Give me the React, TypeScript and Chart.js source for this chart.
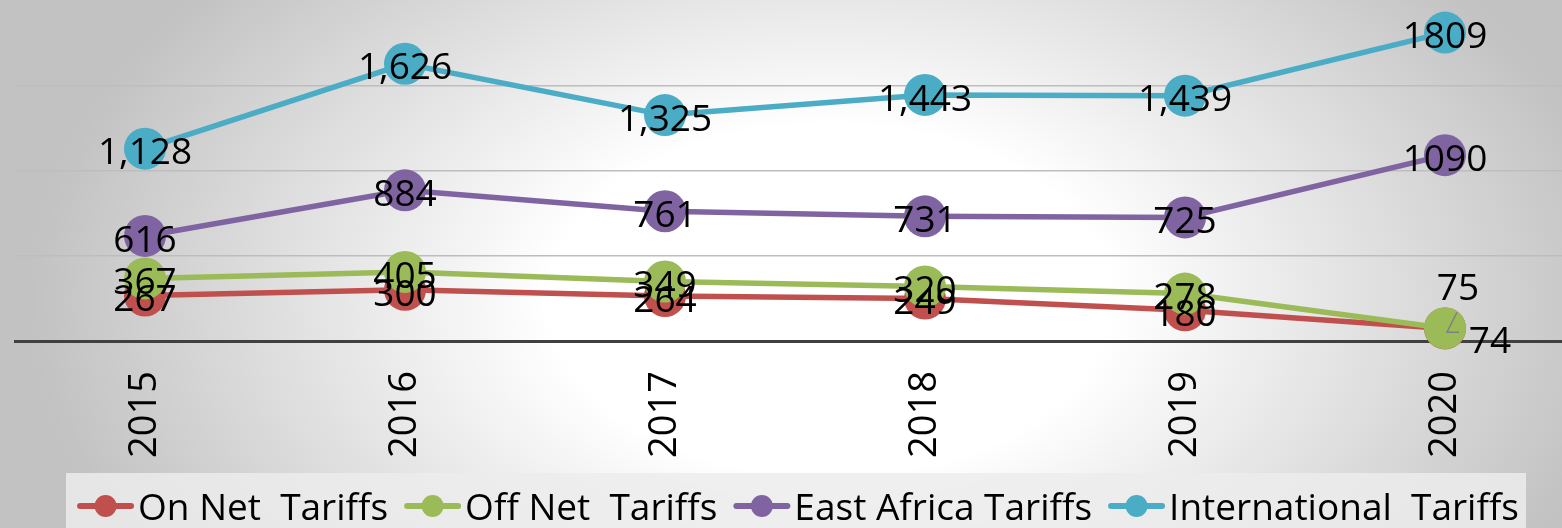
import React, { useEffect, useRef } from "react";
import { Chart, registerables } from "chart.js";

Chart.register(...registerables);

const years = ["2015", "2016", "2017", "2018", "2019", "2020"];
const onNetTariffs = [267, 300, 264, 249, 180, 74];
const offNetTariffs = [367, 405, 349, 320, 278, 75];
const eastAfricaTariffs = [616, 884, 761, 731, 725, 1090];
const internationalTariffs = [1128, 1626, 1325, 1443, 1439, 1809];
const seriesNames = ["On Net  Tariffs", "Off Net  Tariffs", "East Africa Tariffs", "International  Tariffs"];
const seriesColors = ["#C0504D", "#9BBB59", "#8064A2", "#4BACC6"];
const yTicks = [0, 500, 1000, 1500, 2000];

const FONT = '"Open Sans", sans-serif';
const LABEL_SIZE = 37;
const TICK_SIZE = 38;
const LEGEND_SIZE = 37;

// manual label displacements (dataset index, point index) -> [dx, dy]
const labelShift: Record<string, [number, number]> = {
  "0:5": [45, 9],
  "1:5": [13, -44],
};

const fmt = (v: number, i: number) => (i < years.length - 1 ? v.toLocaleString("en-US") : String(v));

const labelPlugin = {
  id: "valueLabels",
  afterDatasetsDraw(chart: any) {
    const ctx = chart.ctx;
    ctx.save();
    const m1 = chart.getDatasetMeta(1);
    const p = m1.data[5];
    if (p) {
      ctx.strokeStyle = "#7f7f7f";
      ctx.lineWidth = 1.5;
      ctx.beginPath();
      ctx.moveTo(p.x + 12, p.y - 16);
      ctx.lineTo(p.x + 2, p.y + 4);
      ctx.lineTo(p.x + 14, p.y + 4);
      ctx.stroke();
    }
    ctx.font = `${LABEL_SIZE}px ${FONT}`;
    ctx.fillStyle = "#000";
    ctx.textAlign = "center";
    ctx.textBaseline = "alphabetic";
    chart.data.datasets.forEach((ds: any, di: number) => {
      const meta = chart.getDatasetMeta(di);
      meta.data.forEach((pt: any, i: number) => {
        const sh = labelShift[`${di}:${i}`] || [0, 0];
        ctx.fillText(fmt(ds.data[i], i), pt.x + sh[0], pt.y + sh[1] + LABEL_SIZE * 0.357 + 2.5);
      });
    });
    ctx.restore();
  },
};

const legendPlugin = {
  id: "customLegend",
  afterDraw(chart: any) {
    const ctx = chart.ctx;
    ctx.save();
    ctx.fillStyle = "rgba(236,236,236,0.85)";
    ctx.fillRect(66, 473, 1460, 60);
    ctx.font = `${LEGEND_SIZE}px ${FONT}`;
    const sampleW = 57;
    const gapText = 4;
    const gapItem = 16;
    const widths = seriesNames.map((n) => ctx.measureText(n).width);
    const total = widths.reduce((a, w) => a + sampleW + gapText + w, 0) + gapItem * (seriesNames.length - 1);
    let x = 798 - total / 2;
    const yMid = 506;
    seriesNames.forEach((name, k) => {
      const c = seriesColors[k];
      ctx.strokeStyle = c;
      ctx.lineWidth = 6;
      ctx.lineCap = "round";
      ctx.beginPath();
      ctx.moveTo(x + 3, yMid);
      ctx.lineTo(x + sampleW - 3, yMid);
      ctx.stroke();
      ctx.fillStyle = c;
      ctx.beginPath();
      ctx.arc(x + sampleW / 2, yMid, 11, 0, Math.PI * 2);
      ctx.fill();
      ctx.fillStyle = "#000";
      ctx.textAlign = "left";
      ctx.textBaseline = "alphabetic";
      ctx.fillText(name, x + sampleW + gapText, yMid + LEGEND_SIZE * 0.357 + 1);
      x += sampleW + gapText + widths[k] + gapItem;
    });
    ctx.restore();
  },
};

export default function App() {
  const ref = useRef<HTMLCanvasElement | null>(null);
  useEffect(() => {
    if (!ref.current) return;
    const series = [onNetTariffs, offNetTariffs, eastAfricaTariffs, internationalTariffs];
    const chart = new Chart(ref.current, {
      type: "line",
      data: {
        labels: years,
        datasets: series.map((d, k) => ({
          label: seriesNames[k],
          data: d,
          borderColor: seriesColors[k],
          backgroundColor: seriesColors[k],
          pointBackgroundColor: seriesColors[k],
          pointBorderWidth: 0,
          pointRadius: 21,
          pointHoverRadius: 21,
          borderWidth: 5.5,
          tension: 0,
          clip: false as any,
          order: series.length - k,
        })),
      },
      options: {
        responsive: false,
        maintainAspectRatio: false,
        devicePixelRatio: 1,
        animation: false,
        layout: { autoPadding: false, padding: { left: 15, right: 5, top: 0, bottom: 55 } },
        plugins: { legend: { display: false }, tooltip: { enabled: false } },
        scales: {
          x: {
            offset: true,
            grid: { display: false, drawTicks: false },
            border: { display: true, color: "#404040", width: 3 },
            ticks: {
              color: "#000",
              font: { family: FONT, size: TICK_SIZE },
              minRotation: 90,
              maxRotation: 90,
              padding: 30,
            },
            afterFit: (s: any) => {
              s.height = 132;
              s.paddingLeft = 0;
              s.paddingRight = 0;
              s.paddingTop = 0;
              s.paddingBottom = 0;
            },
          },
          y: {
            min: yTicks[0],
            max: yTicks[yTicks.length - 1],
            afterBuildTicks: (s: any) => {
              s.ticks = yTicks.map((v) => ({ value: v }));
            },
            grid: {
              drawTicks: false,
              color: (c: any) =>
                c.tick && (c.tick.value === yTicks[0] || c.tick.value === yTicks[yTicks.length - 1])
                  ? "rgba(0,0,0,0)"
                  : "#bdbdbd",
              lineWidth: 1.5,
            },
            border: { display: false },
            ticks: { display: false },
            afterFit: (s: any) => {
              s.width = 0;
              s.paddingLeft = 0;
              s.paddingRight = 0;
              s.paddingTop = 0;
              s.paddingBottom = 0;
            },
          },
        },
      },
      plugins: [labelPlugin, legendPlugin],
    });
    return () => chart.destroy();
  }, []);
  return (
    <div
      style={{
        position: "fixed",
        left: 0,
        top: 0,
        width: 1562,
        height: 528,
        overflow: "hidden",
        background: "radial-gradient(ellipse 800px 500px at 830px 300px, #ffffff 35%, #c2c2c2 100%)",
      }}
    >
      <canvas ref={ref} width={1580} height={528} style={{ display: "block", width: 1580, height: 528 }} />
    </div>
  );
}
